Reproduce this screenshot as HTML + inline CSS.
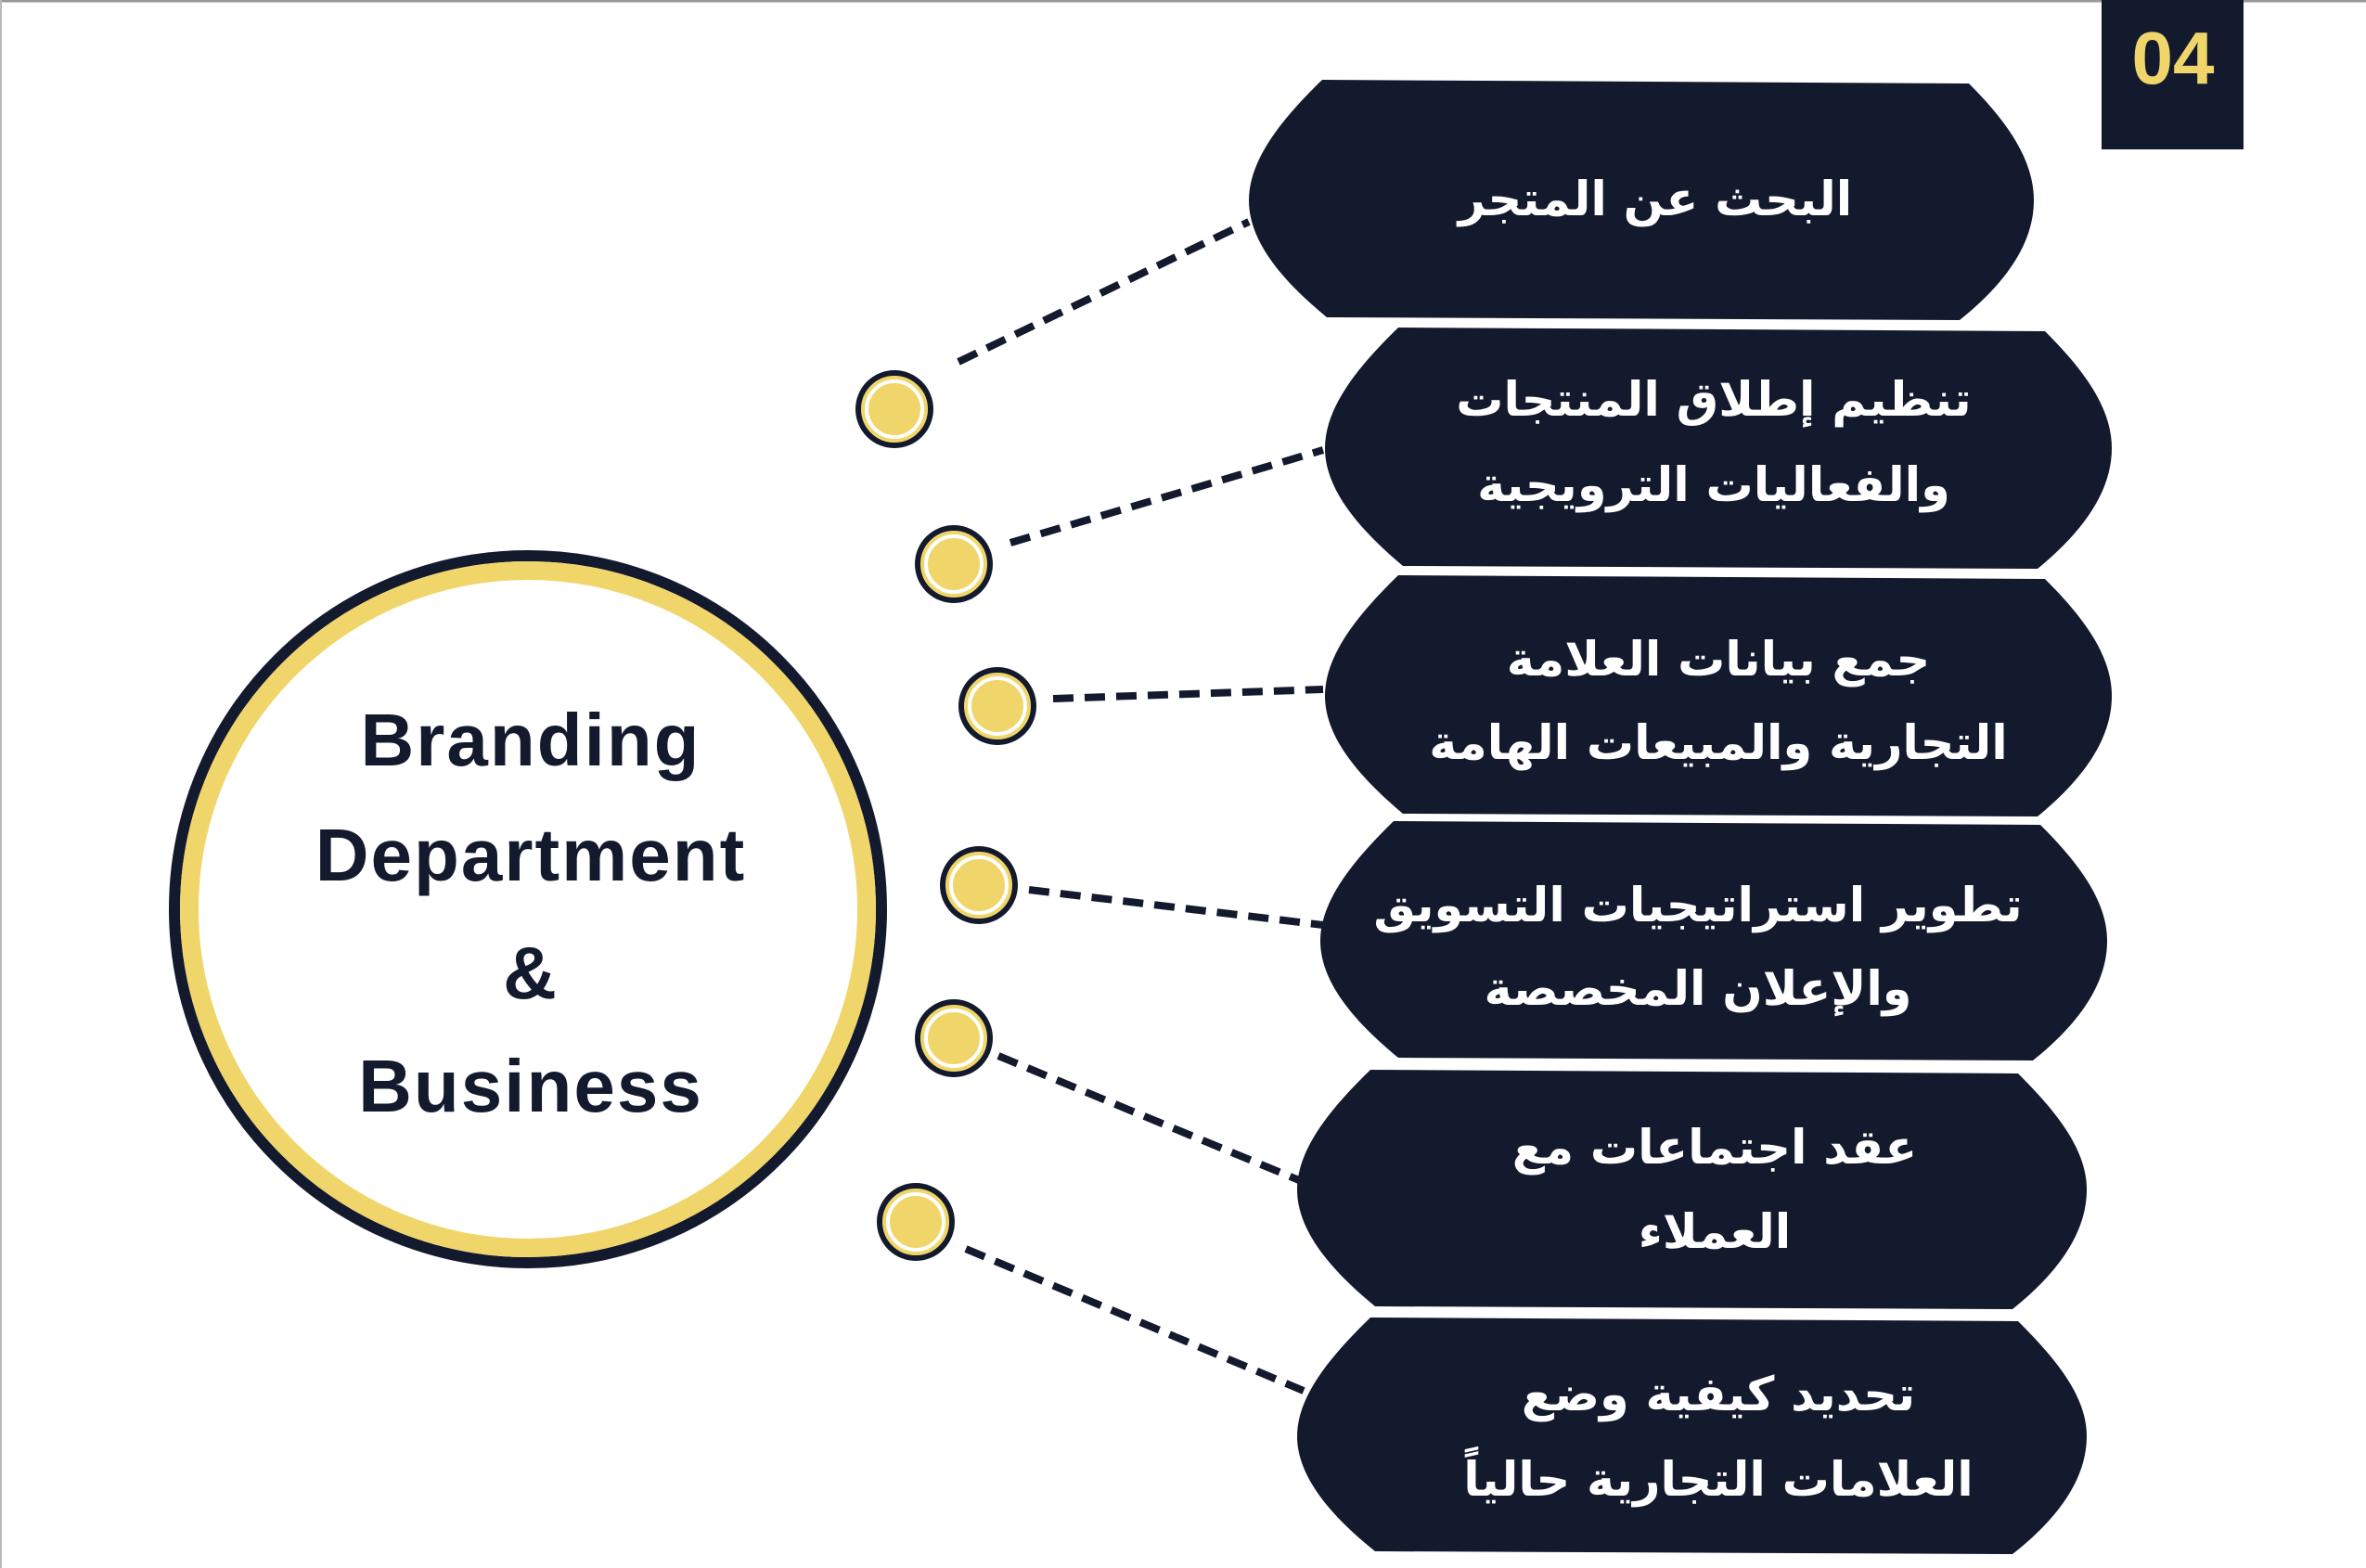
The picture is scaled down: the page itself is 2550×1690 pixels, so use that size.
<!DOCTYPE html>
<html><head><meta charset="utf-8"><style>
html,body{margin:0;padding:0;background:#fff}
svg{display:block}
.ar{font-family:"DejaVu Sans",sans-serif;font-weight:bold;fill:#fff;font-size:51px;text-anchor:middle}
.en{font-family:"Liberation Sans",sans-serif;font-weight:bold;fill:#141a2e;font-size:80px;text-anchor:middle;letter-spacing:2px}
</style></head><body>
<svg width="2550" height="1690" viewBox="0 0 2550 1690" xmlns="http://www.w3.org/2000/svg">
<rect width="2550" height="1690" fill="#fff"/>
<line x1="0" y1="1" x2="2550" y2="1" stroke="#999" stroke-width="3"/>
<line x1="1" y1="0" x2="1" y2="1690" stroke="#bbb" stroke-width="2"/>
<rect x="2265" y="0" width="153" height="161" fill="#141a2e"/>
<text x="2342" y="90" font-family="'Liberation Sans Narrow','Liberation Sans',sans-serif" font-weight="bold" font-size="80" fill="#f0d66a" text-anchor="middle">04</text>

<g stroke="#141a2e" stroke-width="8" stroke-dasharray="22,12" fill="none">
<line x1="1033" y1="390" x2="1346" y2="239"/>
<line x1="1089" y1="585" x2="1426" y2="485"/>
<line x1="1135" y1="753" x2="1426" y2="743"/>
<line x1="1109" y1="959" x2="1426" y2="997"/>
<line x1="1076" y1="1138" x2="1400" y2="1272"/>
<line x1="1041" y1="1346" x2="1405" y2="1499"/>
</g>

<g fill="#f0d66a" stroke="#141a2e" stroke-width="6">
<circle cx="964" cy="441" r="39"/><circle cx="964" cy="441" r="30" stroke="#fff" stroke-width="4"/>
<circle cx="1028" cy="608" r="39"/><circle cx="1028" cy="608" r="30" stroke="#fff" stroke-width="4"/>
<circle cx="1075" cy="761" r="39"/><circle cx="1075" cy="761" r="30" stroke="#fff" stroke-width="4"/>
<circle cx="1055" cy="954" r="39"/><circle cx="1055" cy="954" r="30" stroke="#fff" stroke-width="4"/>
<circle cx="1028" cy="1119" r="39"/><circle cx="1028" cy="1119" r="30" stroke="#fff" stroke-width="4"/>
<circle cx="987" cy="1317" r="39"/><circle cx="987" cy="1317" r="30" stroke="#fff" stroke-width="4"/>
</g>

<circle cx="569" cy="980" r="381" fill="#fff" stroke="#141a2e" stroke-width="12"/>
<circle cx="569" cy="980" r="365" fill="none" stroke="#f0d66a" stroke-width="20"/>
<text class="en" x="572" y="825">Branding</text>
<text class="en" x="572" y="949">Department</text>
<text class="en" x="572" y="1076">&amp;</text>
<text class="en" x="572" y="1198">Business</text>

<g fill="#141a2e">
<path d="M1425,86 L2122,90 C2160,128 2192,170 2192,216 C2192,262 2162,305 2112,345 L1430,342 C1385,305 1346,262 1346,216 C1346,170 1385,125 1425,86 Z"/>
<path d="M1507,353 L2204,357 C2242,395 2276,437 2276,483 C2276,529 2246,572 2196,613 L1512,610 C1467,572 1428,529 1428,483 C1428,437 1467,392 1507,353 Z"/>
<path d="M1507,620 L2204,624 C2242,662 2276,704 2276,750 C2276,796 2246,839 2196,880 L1512,877 C1467,839 1428,796 1428,750 C1428,704 1467,659 1507,620 Z"/>
<path d="M1502,885 L2199,889 C2237,927 2271,969 2271,1014 C2271,1060 2241,1103 2191,1143 L1507,1140 C1462,1103 1423,1060 1423,1014 C1423,969 1462,924 1502,885 Z"/>
<path d="M1477,1153 L2175,1157 C2213,1195 2249,1237 2249,1282 C2249,1328 2219,1371 2169,1411 L1482,1408 C1437,1371 1398,1328 1398,1282 C1398,1237 1437,1192 1477,1153 Z"/>
<path d="M1477,1420 L2175,1424 C2213,1462 2249,1503 2249,1548 C2249,1593 2219,1636 2169,1675 L1482,1672 C1437,1636 1398,1593 1398,1548 C1398,1503 1437,1459 1477,1420 Z"/>
</g>

<g class="ar" direction="rtl">
<text class="ar" x="1784" y="232">البحث عن المتجر</text>
<text class="ar" x="1847" y="448">تنظيم إطلاق المنتجات</text>
<text class="ar" x="1847" y="540">والفعاليات الترويجية</text>
<text class="ar" x="1852" y="728">جمع بيانات العلامة</text>
<text class="ar" x="1852" y="818">التجارية والمبيعات الهامة</text>
<text class="ar" x="1830" y="993">تطوير استراتيجيات التسويق</text>
<text class="ar" x="1830" y="1083">والإعلان المخصصة</text>
<text class="ar" x="1848" y="1254">عقد اجتماعات مع</text>
<text class="ar" x="1848" y="1345">العملاء</text>
<text class="ar" x="1852" y="1520">تحديد كيفية وضع</text>
<text class="ar" x="1852" y="1612">العلامات التجارية حالياً</text>
</g>
</svg>
</body></html>
